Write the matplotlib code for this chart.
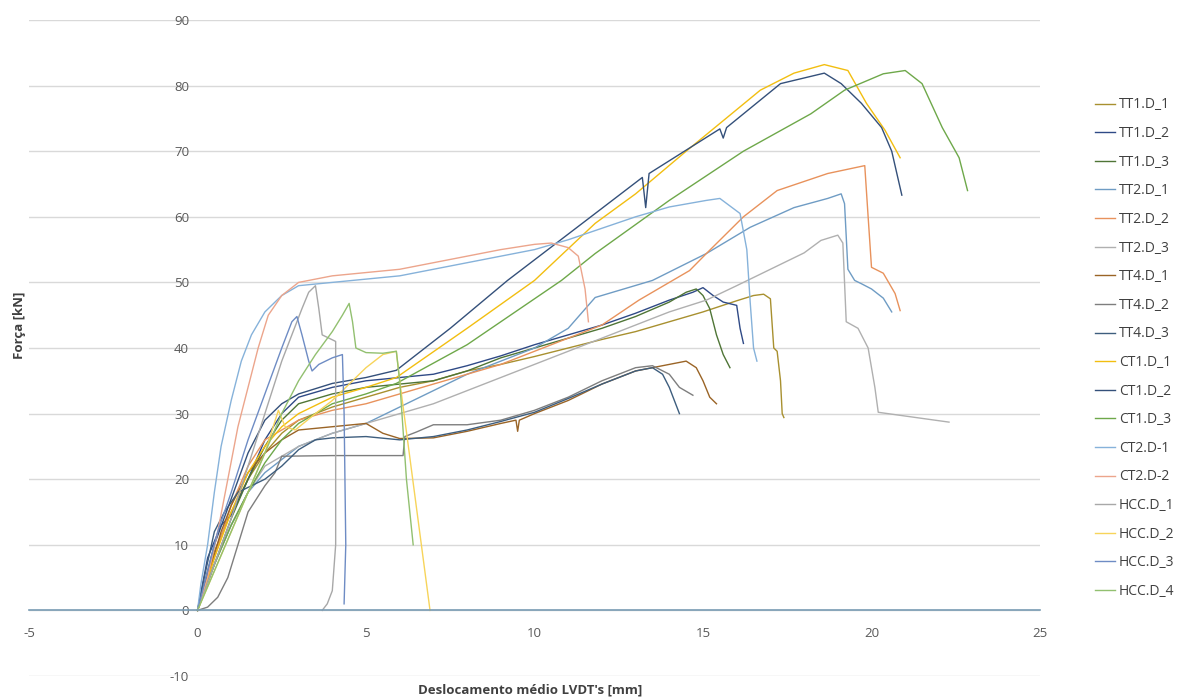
import matplotlib.pyplot as plt

plt.rcParams['font.family'] = ['Open Sans', 'DejaVu Sans']
plt.rcParams['axes.unicode_minus'] = False

# ---- data (deslocamento [mm], força [kN]) ----
tt1_d1_x = [0, 0.5, 1, 1.5, 2, 2.5, 3, 4, 5, 6, 7, 8, 9, 10, 11, 12, 13, 14, 15, 16, 16.5, 16.8, 17.0, 17.1, 17.2, 17.3, 17.35, 17.4]
tt1_d1_y = [0, 9, 15, 20, 24, 27, 29, 31, 32.5, 34, 35, 36.5, 37.5, 38.7, 40, 41.3, 42.5, 44, 45.5, 47.2, 48, 48.2, 47.5, 40, 39.5, 35, 30, 29.4]

tt1_d2_x = [0, 0.3, 0.7, 1, 1.5, 2, 2.5, 3, 4, 5, 6, 7, 8, 9, 10, 11, 12, 13, 14, 14.7, 15, 15.3, 15.6, 16, 16.1, 16.2]
tt1_d2_y = [0, 8, 13, 14.5, 20, 26, 30, 32.5, 34, 35, 35.5, 36, 37.3, 38.8, 40.5, 42, 43.5, 45.3, 47.3, 48.5, 49.2, 48, 47, 46.5, 43, 40.7]

tt1_d3_x = [0, 0.5, 1, 1.5, 2, 2.5, 3, 4, 5, 6, 7, 8, 9, 10, 11, 12, 13, 14, 14.5, 14.8, 15, 15.2, 15.4, 15.6, 15.8]
tt1_d3_y = [0, 7, 14, 20, 25, 29, 31.5, 33, 34, 34.5, 35, 36.5, 38.5, 40, 41.5, 43, 44.8, 47, 48.5, 49, 48, 46, 42, 39, 37]

tt2_d1_x = [0, 0.5, 1, 1.5, 2, 3, 4, 5, 6, 7, 8, 9, 10, 11, 11.8, 13.5, 15.1, 16.4, 17.7, 18.7, 19.1, 19.2, 19.3, 19.5, 19.7, 20, 20.35, 20.6]
tt2_d1_y = [0, 7, 13, 18, 21, 25, 27, 28.5, 31, 33.5, 36, 38, 40, 43, 47.7, 50.3, 54.4, 58.4, 61.4, 62.8, 63.5, 62, 52, 50.3, 49.8, 49, 47.6, 45.5]

tt2_d2_x = [0, 0.5, 1, 1.5, 2, 3, 4, 5, 6, 7, 8, 9, 10, 11, 12, 13.1, 14.6, 15.1, 16.2, 17.2, 18.7, 19.8, 19.9, 20.0, 20.35, 20.7, 20.85]
tt2_d2_y = [0, 8, 16, 22, 26, 29, 30.5, 31.5, 33, 34.5, 36, 37.5, 39.5, 41.5, 43.5, 47.3, 51.8, 54.4, 60, 64, 66.6, 67.8, 60, 52.3, 51.4, 48.3, 45.7]

tt2_d3_x = [0, 0.5, 1, 1.5, 2, 3, 4, 5, 6, 7, 8, 9, 10, 11, 12, 13, 14, 15.1, 16, 17, 18, 18.5, 19, 19.15, 19.25, 19.6, 19.9, 20.1, 20.2, 22.3]
tt2_d3_y = [0, 7, 13, 18, 22, 25, 27, 28.5, 30, 31.5, 33.5, 35.5, 37.5, 39.5, 41.5, 43.5, 45.5, 47.3, 49.5, 52, 54.5, 56.4, 57.2, 56, 44, 43, 40, 34, 30.2, 28.7]

tt4_d1_x = [0, 0.3, 0.7, 1, 1.5, 2, 2.5, 3, 4, 5, 5.5, 6, 7, 8, 9, 9.45, 9.5, 9.55, 10, 11, 12, 13, 14, 14.5, 14.8, 15, 15.2, 15.4]
tt4_d1_y = [0, 5, 12, 16, 21, 24, 26, 27.5, 28, 28.5, 27, 26.2, 26.3, 27.3, 28.5, 29, 27.3, 29, 30, 32, 34.5, 36.5, 37.5, 38, 37, 35, 32.5, 31.5]

tt4_d2_x = [0, 0.3, 0.6, 0.9, 1.2, 1.5, 2, 2.3, 2.5, 4, 6.1, 6.15, 6.5, 7, 8, 9, 10, 11, 12, 13, 13.5, 14, 14.3, 14.7]
tt4_d2_y = [0, 0.5, 2, 5, 10, 15, 19, 21, 23.5, 23.6, 23.6, 26.5, 27.2, 28.3, 28.3, 29, 30.5, 32.5, 35, 37, 37.3, 36, 34, 32.8]

tt4_d3_x = [0, 0.2, 0.5, 0.8, 1.2, 1.6, 2, 2.5, 3, 3.5, 4, 5, 6, 7, 8, 9, 10, 11, 12, 13, 13.5, 13.8, 14, 14.3]
tt4_d3_y = [0, 5, 12, 15, 18, 19, 20, 22, 24.5, 26, 26.3, 26.5, 26, 26.5, 27.5, 28.8, 30.2, 32.3, 34.5, 36.5, 37, 36, 34, 30]

ct1_d1_x = [0, 0.5, 1, 1.5, 2, 2.5, 3, 4, 5, 5.9, 8, 10, 11.8, 13, 14.5, 16.7, 17.7, 18.6, 19.3, 19.85, 20.4, 20.85]
ct1_d1_y = [0, 8, 15, 21, 25, 28, 30, 32.5, 34, 35.5, 43, 50.3, 59, 63.5, 70, 79.3, 81.9, 83.2, 82.3, 77.3, 73.2, 69]

ct1_d2_x = [0, 0.5, 1, 1.5, 2, 2.5, 3, 4, 5, 5.9, 7.5, 9.2, 11.8, 13.2, 13.3, 13.4, 15.5, 15.6, 15.7, 17.3, 18.6, 19.1, 19.7, 20.3, 20.6, 20.9]
ct1_d2_y = [0, 10, 17, 24, 29, 31.5, 33, 34.6, 35.5, 36.6, 43, 50.3, 60.5, 66, 61.4, 66.6, 73.4, 72, 73.6, 80.3, 81.9, 80.3, 77.3, 73.6, 70, 63.3]

ct1_d3_x = [0, 0.5, 1, 1.5, 2, 2.5, 3, 4, 5, 5.9, 8, 10.8, 11.8, 14, 16.2, 18.2, 19.2, 20.35, 21, 21.5, 22.1, 22.6, 22.85]
ct1_d3_y = [0, 7, 13, 18, 22.5, 26, 28.5, 31.5, 33, 34.6, 40.5, 50.3, 54.4, 62.5, 70, 75.7, 79.3, 81.8, 82.3, 80.3, 73.6, 69, 64]

ct2_d1_x = [0, 0.1, 0.3, 0.5, 0.7, 1, 1.3, 1.6, 2, 2.5, 3, 4, 5, 6, 7, 8, 9, 10, 11, 11.8, 13, 14, 15.1, 15.5, 16.1, 16.3, 16.4, 16.5, 16.6]
ct2_d1_y = [0, 4, 10, 18, 25, 32, 38, 42, 45.5, 48, 49.5, 50, 50.5, 51, 52, 53, 54, 55, 56.5, 57.9, 60, 61.5, 62.5, 62.8, 60.5, 55, 47, 40, 38]

ct2_d2_x = [0, 0.3, 0.6, 0.9, 1.2, 1.5, 1.8, 2.1, 2.5, 3, 4, 5, 6, 7, 8, 9, 10, 10.5, 11, 11.3, 11.5, 11.6]
ct2_d2_y = [0, 5, 12, 20, 28, 34, 40, 45, 48, 50, 51, 51.5, 52, 53, 54, 55, 55.8, 56, 55.3, 54, 49, 44]

hcc_d1_x = [0, 0.5, 1, 1.5, 2, 2.5, 2.8, 3.1, 3.3, 3.5, 3.6, 3.7, 3.9, 4.1, 4.1, 4.0, 3.85, 3.7]
hcc_d1_y = [0, 7, 14, 22, 30, 38, 42, 46, 48.5, 49.5, 46, 42, 41.5, 41, 10, 3, 1, 0]

hcc_d2_x = [0, 0.5, 1, 1.5, 2, 2.4, 2.6, 2.9, 3.5, 4, 4.5, 5, 5.5, 5.9, 6.0, 6.9]
hcc_d2_y = [0, 6, 12, 18, 24, 30.5, 28, 27.5, 30, 32, 34.5, 37, 39, 39.5, 35, 0]

hcc_d3_x = [0, 0.3, 0.6, 1, 1.5, 2, 2.5, 2.8, 2.95, 3.1, 3.3, 3.4, 3.6, 3.8, 4, 4.3, 4.35, 4.4, 4.35]
hcc_d3_y = [0, 6, 12, 18, 26, 33, 40, 44, 44.8, 42, 38, 36.5, 37.5, 38, 38.5, 39, 30, 10, 1]

hcc_d4_x = [0, 0.5, 1, 1.5, 2, 2.5, 3, 3.5, 4, 4.3, 4.5, 4.6, 4.7, 5, 5.5, 5.9, 6.0, 6.2, 6.4]
hcc_d4_y = [0, 6, 12, 18, 24, 30, 35, 39, 42.5, 45, 46.8, 44, 40, 39.3, 39.2, 39.5, 35, 20, 10]

labels = ['TT1.D_1', 'TT1.D_2', 'TT1.D_3', 'TT2.D_1', 'TT2.D_2', 'TT2.D_3',
          'TT4.D_1', 'TT4.D_2', 'TT4.D_3', 'CT1.D_1', 'CT1.D_2', 'CT1.D_3',
          'CT2.D-1', 'CT2.D-2', 'HCC.D_1', 'HCC.D_2', 'HCC.D_3', 'HCC.D_4']
xs = [tt1_d1_x, tt1_d2_x, tt1_d3_x, tt2_d1_x, tt2_d2_x, tt2_d3_x,
      tt4_d1_x, tt4_d2_x, tt4_d3_x, ct1_d1_x, ct1_d2_x, ct1_d3_x,
      ct2_d1_x, ct2_d2_x, hcc_d1_x, hcc_d2_x, hcc_d3_x, hcc_d4_x]
ys = [tt1_d1_y, tt1_d2_y, tt1_d3_y, tt2_d1_y, tt2_d2_y, tt2_d3_y,
      tt4_d1_y, tt4_d2_y, tt4_d3_y, ct1_d1_y, ct1_d2_y, ct1_d3_y,
      ct2_d1_y, ct2_d2_y, hcc_d1_y, hcc_d2_y, hcc_d3_y, hcc_d4_y]
colors = ['#A8902F', '#2F4A86', '#4F7536', '#6F9CC4', '#E8925C', '#B0B0B0',
          '#9A6426', '#7E7E7E', '#3E5E7E', '#F2BE10', '#34507A', '#6EA84A',
          '#86B2DA', '#ECA58C', '#A8A8A8', '#F7D45A', '#6E8CC4', '#92C070']

fig = plt.figure(figsize=(11.91, 6.98), dpi=100)
ax = fig.add_axes([29 / 1191, 22 / 698, 1011 / 1191, 656 / 698])

for x, y, c, lab in zip(xs, ys, colors, labels):
    ax.plot(x, y, color=c, lw=1.0, label=lab)

ax.set_xlim(-5, 25)
ax.set_ylim(-10, 90)
ax.set_xticks(range(-5, 26, 5))
ax.set_yticks(range(-10, 91, 10))
ax.yaxis.grid(True, color='#D9D9D9', lw=1)
ax.set_axisbelow(True)

for s in ['top', 'right']:
    ax.spines[s].set_visible(False)
ax.spines['left'].set_position(('data', 0))
ax.spines['left'].set_visible(False)
ax.spines['bottom'].set_position(('data', 0))
ax.spines['bottom'].set_color('#7A9CB4')
ax.spines['bottom'].set_linewidth(1.2)
ax.tick_params(axis='both', length=0, labelsize=9.5, labelcolor='#595959')
ax.tick_params(axis='x', pad=12)
ax.tick_params(axis='y', pad=6)

fig.text(530 / 1191, 1 - 690 / 698, "Deslocamento médio LVDT's [mm]", ha='center', va='center',
         fontsize=9.5, fontweight='bold', color='#404040')
fig.text(20 / 1191, 1 - 325 / 698, 'Força [kN]', ha='center', va='center', rotation=90,
         fontsize=9.5, fontweight='bold', color='#404040')

fig.legend(loc='upper left', bbox_to_anchor=(1082 / 1191, 1 - 85 / 698), frameon=False,
           fontsize=10, handlelength=1.45, handletextpad=0.3, labelspacing=0.98,
           labelcolor='#404040')

fig.savefig('out.png', dpi=100)
